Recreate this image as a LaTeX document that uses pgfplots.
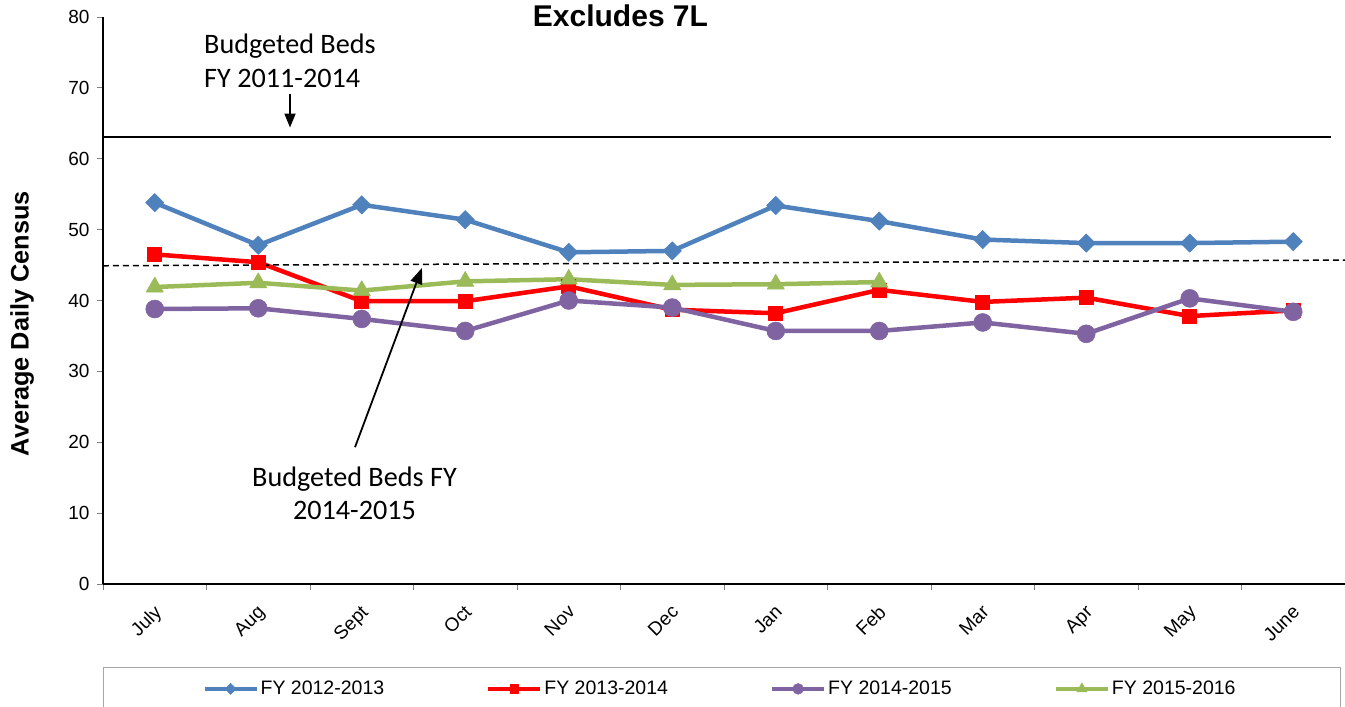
\documentclass[border=0pt]{standalone}
\usepackage{fontspec}
\setmainfont{Liberation Sans}
\newfontfamily\calibri{Carlito}
\usepackage{pgfplots}
\pgfplotsset{compat=1.18}
\usetikzlibrary{arrows.meta}
\definecolor{cblue}{HTML}{4F81BD}
\definecolor{cred}{HTML}{FF0000}
\definecolor{cpurple}{HTML}{8064A2}
\definecolor{cgreen}{HTML}{9BBB59}
\begin{document}
\begin{tikzpicture}[x=1pt,y=1pt]
\useasboundingbox (0,0) rectangle (1345,707);
\begin{axis}[
  at={(103pt,123pt)}, anchor=south west,
  scale only axis, width=1242pt, height=567pt,
  xmin=-0.5, xmax=11.5, ymin=0, ymax=80,
  axis x line*=bottom, axis y line*=left,
  xtick={-0.5,0.5,...,11.5},
  x tick label as interval,
  xticklabels={July,Aug,Sept,Oct,Nov,Dec,Jan,Feb,Mar,Apr,May,June},
  ytick={0,10,...,80},
  tick align=outside, major tick length=6pt,
  tick style={gray, line width=0.8pt},
  axis line style={black, line width=1.3pt},
  ticklabel style={font=\fontsize{19}{22}\selectfont},
  /pgf/number format/assume math mode=true,
  xticklabel style={anchor=north east, xshift=-2pt, yshift=-9pt, rotate=45},
  yticklabel style={xshift=-4pt},
  ylabel={Average Daily Census},
  ylabel style={font=\bfseries\fontsize{25.3}{28}\selectfont, at={(axis description cs:-0.0652,0.459)}, anchor=center},
  clip=false,
  legend columns=4,
  legend style={at={(axis description cs:0.4968,-0.185)}, anchor=center, draw=none, fill=none,
    font=\fontsize{19.5}{22}\selectfont,
    /tikz/every even column/.append style={column sep=100pt}},
  legend image code/.code={\draw[mark repeat=2,mark phase=2,#1, line width=4.2pt, every mark/.append style={scale=0.6}] plot coordinates {(0pt,0pt)(26pt,0pt)(52pt,0pt)};},
]
\addplot[cblue, line width=4.5pt, line join=round, mark=square*, mark size=6.5pt,
  mark options={rotate=45, fill=cblue, draw=cblue, line width=0.5pt}] coordinates {
  (0,53.8) (1,47.8) (2,53.5) (3,51.4) (4,46.8) (5,47.0) (6,53.4) (7,51.2) (8,48.6) (9,48.1) (10,48.1) (11,48.3)};
\addlegendentry{FY 2012-2013}
\addplot[cred, line width=4.5pt, line join=round, mark=square*, mark size=7pt,
  mark options={fill=cred, draw=cred, line width=0.5pt}] coordinates {
  (0,46.5) (1,45.4) (2,39.9) (3,39.9) (4,42.0) (5,38.7) (6,38.2) (7,41.5) (8,39.8) (9,40.4) (10,37.8) (11,38.6)};
\addlegendentry{FY 2013-2014}
\addplot[cpurple, line width=4.5pt, line join=round, mark=*, mark size=9pt,
  mark options={fill=cpurple, draw=cpurple, line width=0.5pt}] coordinates {
  (0,38.8) (1,38.9) (2,37.4) (3,35.7) (4,40.0) (5,39.0) (6,35.7) (7,35.7) (8,36.9) (9,35.3) (10,40.3) (11,38.4)};
\addlegendentry{FY 2014-2015}
\addplot[cgreen, line width=4.5pt, line join=round, mark=triangle*, mark size=10pt,
  mark options={fill=cgreen, draw=cgreen, line width=0.5pt}] coordinates {
  (0,41.9) (1,42.5) (2,41.4) (3,42.7) (4,43.0) (5,42.2) (6,42.3) (7,42.6)};
\addlegendentry{FY 2015-2016}
\addplot[black, line width=2pt, forget plot] coordinates {(-0.5,63.05) (11.36,63.05)};
\addplot[black, line width=1.5pt, dash pattern=on 6pt off 4pt, forget plot] coordinates {(-0.5,44.9) (11.5,45.7)};
\draw[black, line width=1.8pt, -{Triangle[length=14pt,width=11pt]}] (axis cs:1.307,69.2) -- (axis cs:1.307,64.4);
\draw[black, line width=1.8pt, -{Triangle[length=16pt,width=12pt]}] (axis cs:1.935,19.3) -- (axis cs:2.582,44.6);
\node[font=\calibri\fontsize{28.2}{33.5}\selectfont, align=left, anchor=north west, inner sep=0pt] at (axis cs:0.476,77.6) {Budgeted Beds\\FY 2011-2014};
\node[font=\calibri\fontsize{28.2}{33.5}\selectfont, align=center, anchor=north, inner sep=0pt] at (axis cs:1.93,16.6) {Budgeted Beds FY\\2014-2015};
\node[font=\bfseries\fontsize{30}{34}\selectfont, anchor=base, inner sep=0pt] at (axis cs:4.50,78.7) {Excludes 7L};
\end{axis}
\draw[gray!70, line width=1pt] (103,-3) rectangle (1340,39);
\end{tikzpicture}
\end{document}
